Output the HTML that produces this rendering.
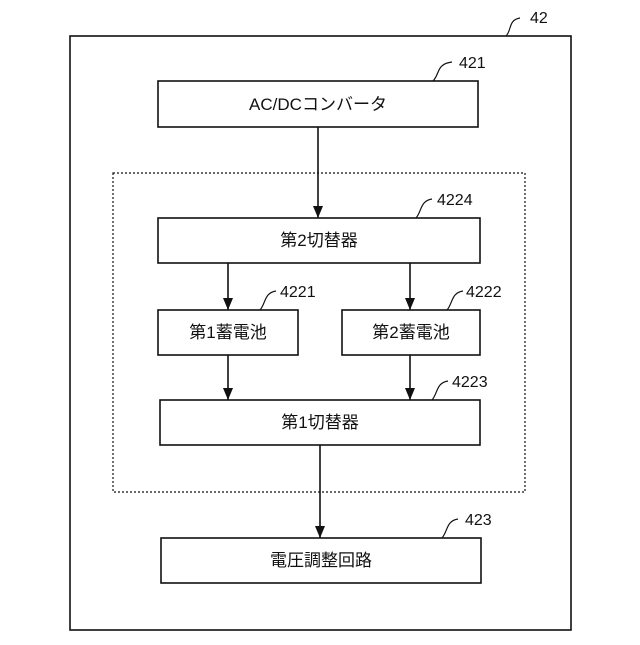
<!DOCTYPE html>
<html><head><meta charset="utf-8"><style>
html,body{margin:0;padding:0;background:#fff;}
svg text{font-family:"Liberation Sans","Noto Sans CJK JP",sans-serif;fill:#111;}
</style></head><body>
<svg width="640" height="640" viewBox="0 0 640 640" xmlns="http://www.w3.org/2000/svg">
<defs><marker id="a" markerWidth="10" markerHeight="10" refX="5" refY="9" orient="auto" markerUnits="userSpaceOnUse"><path d="M0,0 L10,0 L5,10 Z" fill="#111" transform="rotate(-90 5 5)"/></marker>
<marker id="b" viewBox="0 0 10 12" markerWidth="10" markerHeight="12" refX="5" refY="12" orient="0" markerUnits="userSpaceOnUse"><path d="M0,0 L10,0 L5,12 Z" fill="#111"/></marker></defs>
<g fill="none" stroke="#111" stroke-width="1.6">
<rect x="70" y="36" width="501" height="594"/>
<rect x="113" y="173" width="412" height="319" stroke-dasharray="2,2" stroke-width="1.2"/>
<rect x="158" y="81" width="320" height="46"/>
<rect x="158" y="218" width="322" height="45"/>
<rect x="158" y="310" width="140" height="45"/>
<rect x="342" y="310" width="138" height="45"/>
<rect x="160" y="400" width="320" height="45"/>
<rect x="161" y="538" width="320" height="45"/>
<path d="M318 127 V218" marker-end="url(#b)"/>
<path d="M228 263 V310" marker-end="url(#b)"/>
<path d="M410 263 V310" marker-end="url(#b)"/>
<path d="M228 355 V400" marker-end="url(#b)"/>
<path d="M410 355 V400" marker-end="url(#b)"/>
<path d="M320 445 V538" marker-end="url(#b)"/>
<g stroke-width="1.2">
<path d="M506 36 C512 30,508 20,520 18"/>
<path d="M433 81 C440 74,436 64,452 62"/>
<path d="M416 218 C422 211,420 201,432 199"/>
<path d="M260 310 C266 303,264 293,276 291"/>
<path d="M447 310 C453 303,451 293,463 291"/>
<path d="M432 400 C438 393,436 383,448 381"/>
<path d="M442 538 C448 531,446 521,458 519"/>
</g>
</g>
<g font-size="16">
<text x="530" y="23">42</text>
<text x="459" y="68">421</text>
<text x="437" y="205">4224</text>
<text x="280" y="297">4221</text>
<text x="466" y="297">4222</text>
<text x="452" y="387">4223</text>
<text x="465" y="525">423</text>
</g>
<g font-size="17" text-anchor="middle">
<text x="318" y="110">AC/DCコンバータ</text>
<text x="319" y="246">第2切替器</text>
<text x="228" y="338">第1蓄電池</text>
<text x="411" y="338">第2蓄電池</text>
<text x="320" y="428">第1切替器</text>
<text x="321" y="566">電圧調整回路</text>
</g>
</svg>
</body></html>
